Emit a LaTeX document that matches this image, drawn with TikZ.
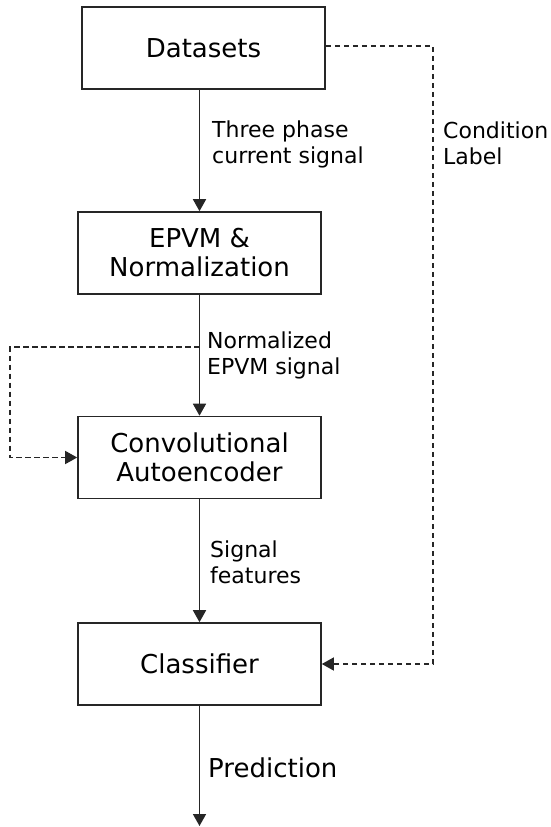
\documentclass[tikz,border=0pt]{standalone}
\usepackage{fontspec}
\setmainfont{DejaVu Sans}
\usetikzlibrary{arrows.meta,calc}
\begin{document}
\begin{tikzpicture}[x=1pt,y=-1pt,
  box/.style={draw=black!85,line width=1.6pt,minimum width=243pt,minimum height=82pt,
    inner sep=0pt,align=center,font=\fontsize{26}{29}\selectfont},
  lab/.style={anchor=base west,align=left,inner sep=0pt,font=\fontsize{22}{26}\selectfont},
  flow/.style={draw=black!85,line width=1.6pt,-{Triangle[width=13pt,length=12pt]}},
  dflow/.style={draw=black!85,line width=1.4pt,dash pattern=on 5.5pt off 3.5pt,-{Triangle[width=13pt,length=12pt]}}]
\useasboundingbox (0,0) rectangle (551,827);
\node[box] (ds) at (203.5,48) {Datasets};
\node[box] (epvm) at (199.5,253) {EPVM \&\\Normalization};
\node[box] (cae) at (199.5,457.5) {Convolutional\\Autoencoder};
\node[box] (cls) at (199.5,664) {Classifier};
\coordinate (end) at (199.5,826);
\coordinate (split) at (199.5,347);
\coordinate (lc) at (10,347);
\coordinate (rc) at (433,46);

\draw[flow] (epvm.north |- ds.south) -- (epvm.north);
\draw[flow] (epvm.south) -- (cae.north);
\draw[flow] (cae.south) -- (cls.north);
\draw[flow] (cls.south) -- (end);
\draw[dflow] (split) -- (lc) |- (cae.west);
\draw[dflow] (ds.east |- rc) -- (rc) |- (cls.east);

\node[lab] (l1) at (212,163) {Three phase\\current signal};
\node[lab] (l2) at (207,374) {Normalized\\EPVM signal};
\node[lab] (l3) at (210,583) {Signal\\features};
\node[lab,font=\fontsize{26}{29}\selectfont] (l4) at (208,777) {Prediction};
\node[lab] (l5) at (443,164) {Condition\\Label};
\end{tikzpicture}
\end{document}
